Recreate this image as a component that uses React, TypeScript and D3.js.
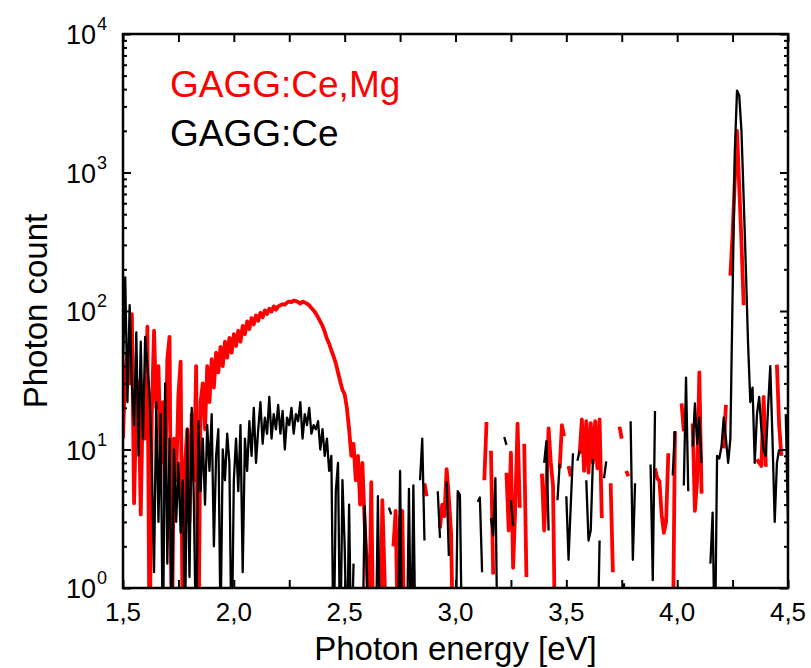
import React, { useEffect, useRef } from "react";
import * as d3 from "d3";

// spectra sampled every 0.01 eV from 1.50 eV to 4.50 eV
// 0 = no point (line break), values below 1 fall under the axis
const energyStart = 1.5;
const energyStep = 0.01;

const gaggCeMgCounts: number[] = [
  12, 36, 50, 30, 95, 4.1, 22, 31, 3.4, 25, // 1.50
  12, 77, 0.3, 18, 72, 20, 40, 8, 22, 5, // 1.60
  45, 65, 0.3, 12, 6, 25, 43, 0.3, 8, 14, // 1.70
  3, 18, 6, 40, 0.3, 22, 30, 14, 40, 22, // 1.80
  45, 28, 50, 36, 55, 40, 60, 46, 64, 50, // 1.90
  68, 56, 72, 60, 78, 68, 84, 74, 89, 80, // 2.00
  93, 85, 97, 90, 101, 95, 104, 99, 108, 102, // 2.10
  108, 110, 112, 111, 115, 117, 116, 119, 118, 116, // 2.20
  113, 117, 115, 113, 110, 105, 101, 96, 90, 84, // 2.30
  78, 71, 63, 58, 52, 47, 42, 36, 31, 27, // 2.40
  25, 20, 14, 9, 11, 6, 9, 4, 8, 3, // 2.50
  1.5, 0.4, 5.8, 0.3, 0, 0, 0.3, 4.3, 1.2, 0.3, // 2.60
  0, 0, 2, 3.6, 0.4, 3.3, 3.6, 0.3, 0, 0, // 2.70
  0.4, 1.35, 0, 0, 0, 0, 5.7, 4.6, 0, 0, // 2.80
  0, 0, 0, 2.7, 4, 3.3, 7.2, 4.5, 2.5, 0.3, // 2.90
  0, 0, 0, 0, 0, 0, 0, 0, 0, 0, // 3.00
  0, 0, 0, 6, 15.8, 0, 9.8, 1.25, 0, 0, // 3.10
  0, 0, 0, 6.8, 2.6, 9.5, 1.4, 4, 15.4, 3.8, // 3.20
  0, 11, 1.2, 0, 0, 0, 0, 0, 0, 6.7, // 3.30
  2.6, 5.5, 14.2, 8, 5.5, 0.3, 0, 7.3, 15, 12.5, // 3.40
  0, 7.6, 6.4, 0, 0, 0, 9.3, 16.5, 7, 16, // 3.50
  6.8, 15.5, 8, 16, 7.3, 16.5, 3.2, 0, 0, 0, // 3.60
  5.7, 1.3, 0, 0, 14.6, 12, 0, 7, 6.4, 0, // 3.70
  0, 0, 0, 0, 0, 0, 0, 0, 0, 0, // 3.80
  7.3, 6.2, 5.9, 3.4, 2.5, 3.0, 9.4, 0, 0.3, 13.5, // 3.90
  0, 0, 21.5, 13.5, 0, 0, 0, 15.4, 3.6, 6, // 4.00
  36, 4.8, 0, 0, 0, 0, 0, 0, 0, 0, // 4.10
  0, 10.2, 21, 0, 180, 360, 880, 2000, 790, 315, // 4.20
  110, 0, 0, 0, 0, 0, 8.5, 8, 7.6, 24, // 4.30
  7.5, 0, 0, 0, 0, 41, 15, 9, 0, 0, // 4.40
  0, // 4.50
];

const gaggCeCounts: number[] = [
  40, 175, 22, 110, 30, 15, 70, 9, 60, 12, // 1.50
  65, 40, 25, 8, 1.3, 22, 3, 18, 0.3, 30, // 1.60
  1.5, 12, 0.4, 10, 3, 8, 2.5, 6, 0.5, 14, // 1.70
  1.2, 20, 4, 0.3, 16, 5, 12, 4, 15, 7, // 1.80
  18, 2, 9, 14, 0.5, 10, 6, 13, 8, 0.3, // 1.90
  6, 12, 5, 15, 1.3, 12, 7, 16, 9, 20, // 2.00
  8, 14, 22, 11, 17, 13, 24, 12, 18, 14, // 2.10
  21, 13, 19, 10, 17, 15, 20, 13, 18, 16, // 2.20
  22, 12, 18, 15, 20, 13, 15, 14, 16, 10, // 2.30
  14, 9, 12, 7, 9, 0.3, 5, 8, 0.3, 6, // 2.40
  2, 0.3, 4, 0.3, 1.5, 0, 0.3, 0, 0.3, 3.9, // 2.50
  1.4, 0.3, 0, 0, 0.3, 4.6, 0.3, 0, 0, 0, // 2.60
  3.8, 3.4, 0, 0, 0.3, 7, 0.3, 0, 0.3, 5.2, // 2.70
  0.3, 5.5, 0.3, 0, 6, 12, 2.2, 0, 0, 0, // 2.80
  0, 0, 5, 2.3, 0, 0, 5.9, 1.7, 0, 0, // 2.90
  0.3, 5, 4.7, 0.3, 0, 0, 0, 0, 0, 0, // 3.00
  4.2, 4.5, 1.3, 0, 0, 0, 3.2, 2.4, 6.2, 0.3, // 3.10
  0, 0, 12.3, 10.8, 0, 4.3, 2.8, 0, 0, 0, // 3.20
  0, 0, 0, 0, 0, 0, 0, 0, 0, 0, // 3.30
  8, 11.5, 2.6, 0, 0, 0, 4.3, 7.9, 0, 0, // 3.40
  4.6, 1.6, 4, 9.4, 0, 8.3, 9.8, 0, 0, 6, // 3.50
  2.2, 2.6, 8.5, 0, 0.3, 2.2, 0, 6.2, 8.2, 0, // 3.60
  0, 0, 0, 0, 0, 0, 1.08, 0.3, 0, 16, // 3.70
  1.6, 5.7, 0, 0, 0, 0, 0, 0, 7.8, 1.14, // 3.80
  19, 0, 0, 0, 0, 0, 0, 0, 6.5, 13.6, // 3.90
  0, 0, 0, 5.5, 33, 5, 0, 10.5, 21.5, 11, // 4.00
  17, 8, 0, 0, 0, 1.5, 3.5, 0.3, 9, 8.6, // 4.10
  10.5, 17, 12, 8, 12, 130, 1400, 3900, 3600, 2000, // 4.20
  650, 200, 57, 22, 28, 8, 18, 24, 14, 10, // 4.30
  9, 20, 40, 12, 3, 8, 10, 0, 0, 18, // 4.40
  3, // 4.50
];

const seriesNames = ["GAGG:Ce,Mg", "GAGG:Ce"];
const seriesColors = ["#ff0000", "#000000"];
const seriesWidths = [3.8, 2.3];

const xMajorTicks = [1.5, 2.0, 2.5, 3.0, 3.5, 4.0, 4.5];
const xMinorTicks = [1.75, 2.25, 2.75, 3.25, 3.75, 4.25];
const yDecades = [1, 10, 100, 1000, 10000];

const width = 811;
const height = 668;
const margin = { top: 34, right: 23, bottom: 80, left: 123 };
const font = "'Liberation Sans', Arial, sans-serif";

export default function App() {
  const svgRef = useRef<SVGSVGElement>(null);

  useEffect(() => {
    const svg = d3.select(svgRef.current);
    svg.selectAll("*").remove();

    const left = margin.left;
    const right = width - margin.right;
    const top = margin.top;
    const bottom = height - margin.bottom;

    const x = d3.scaleLinear().domain([1.5, 4.5]).range([left, right]);
    const y = d3.scaleLog().domain([1, 10000]).range([bottom, top]);

    svg
      .append("defs")
      .append("clipPath")
      .attr("id", "plot-clip")
      .append("rect")
      .attr("x", left)
      .attr("y", top)
      .attr("width", right - left)
      .attr("height", bottom - top);

    // spectra
    const line = d3
      .line<number>()
      .defined((v) => v > 0)
      .x((_, i) => x(energyStart + i * energyStep))
      .y((v) => y(v));

    const plot = svg.append("g").attr("clip-path", "url(#plot-clip)");
    [gaggCeMgCounts, gaggCeCounts].forEach((values, i) => {
      plot
        .append("path")
        .datum(values)
        .attr("d", line)
        .attr("fill", "none")
        .attr("stroke", seriesColors[i])
        .attr("stroke-width", seriesWidths[i])
        .attr("stroke-linejoin", "round");
    });

    // ticks, all pointing inward
    const yMinor = y.ticks().filter((d) => !yDecades.includes(d));
    const xAll = [...xMajorTicks, ...xMinorTicks];
    const axes = svg.append("g");
    const addAxis = (axis: any, tx: number, ty: number) => {
      const g = axes.append("g").attr("transform", `translate(${tx},${ty})`).call(axis);
      g.select(".domain").remove();
      g.selectAll("text").remove();
      g.selectAll("line").attr("stroke-width", 2);
    };
    addAxis(d3.axisBottom(x).tickValues(xAll).tickSizeInner(-8).tickSizeOuter(0), 0, bottom);
    addAxis(d3.axisTop(x).tickValues(xAll).tickSizeInner(-8).tickSizeOuter(0), 0, top);
    addAxis(d3.axisLeft(y).tickValues(yDecades).tickSizeInner(-8).tickSizeOuter(0), left, 0);
    addAxis(d3.axisLeft(y).tickValues(yMinor).tickSizeInner(-4).tickSizeOuter(0), left, 0);
    addAxis(d3.axisRight(y).tickValues(yDecades).tickSizeInner(-8).tickSizeOuter(0), right, 0);
    addAxis(d3.axisRight(y).tickValues(yMinor).tickSizeInner(-4).tickSizeOuter(0), right, 0);

    // frame
    svg
      .append("rect")
      .attr("x", left)
      .attr("y", top)
      .attr("width", right - left)
      .attr("height", bottom - top)
      .attr("fill", "none")
      .attr("stroke", "#000")
      .attr("stroke-width", 2.5);

    const labels = svg.append("g").attr("font-family", font).attr("fill", "#000");

    labels
      .selectAll("text.xlab")
      .data(xMajorTicks)
      .join("text")
      .attr("class", "xlab")
      .attr("x", (d) => x(d))
      .attr("y", bottom + 33)
      .attr("text-anchor", "middle")
      .attr("font-size", 26)
      .text((d) => d3.format(".1f")(d).replace(".", ","));

    labels
      .selectAll("text.ylab")
      .data(yDecades)
      .join("text")
      .attr("class", "ylab")
      .attr("x", left - 27)
      .attr("y", (d) => y(d) + 10)
      .attr("text-anchor", "end")
      .attr("font-size", 27)
      .text("10");

    labels
      .selectAll("text.yexp")
      .data(yDecades)
      .join("text")
      .attr("class", "yexp")
      .attr("x", left - 26)
      .attr("y", (d) => y(d) - 4)
      .attr("font-size", 18)
      .text((d) => String(Math.round(Math.log10(d))));

    labels
      .append("text")
      .attr("x", (left + right) / 2)
      .attr("y", 660)
      .attr("text-anchor", "middle")
      .attr("font-size", 33)
      .text("Photon energy [eV]");

    labels
      .append("text")
      .attr("transform", `translate(47,${(top + bottom) / 2}) rotate(-90)`)
      .attr("text-anchor", "middle")
      .attr("font-size", 33)
      .text("Photon count");

    // legend
    seriesNames.forEach((name, i) => {
      labels
        .append("text")
        .attr("x", 170)
        .attr("y", 97 + i * 49)
        .attr("font-size", 37)
        .attr("fill", seriesColors[i])
        .text(name);
    });
  }, []);

  return (
    <svg
      ref={svgRef}
      width={width}
      height={height}
      style={{ position: "absolute", left: 0, top: 0, background: "#fff" }}
    />
  );
}
